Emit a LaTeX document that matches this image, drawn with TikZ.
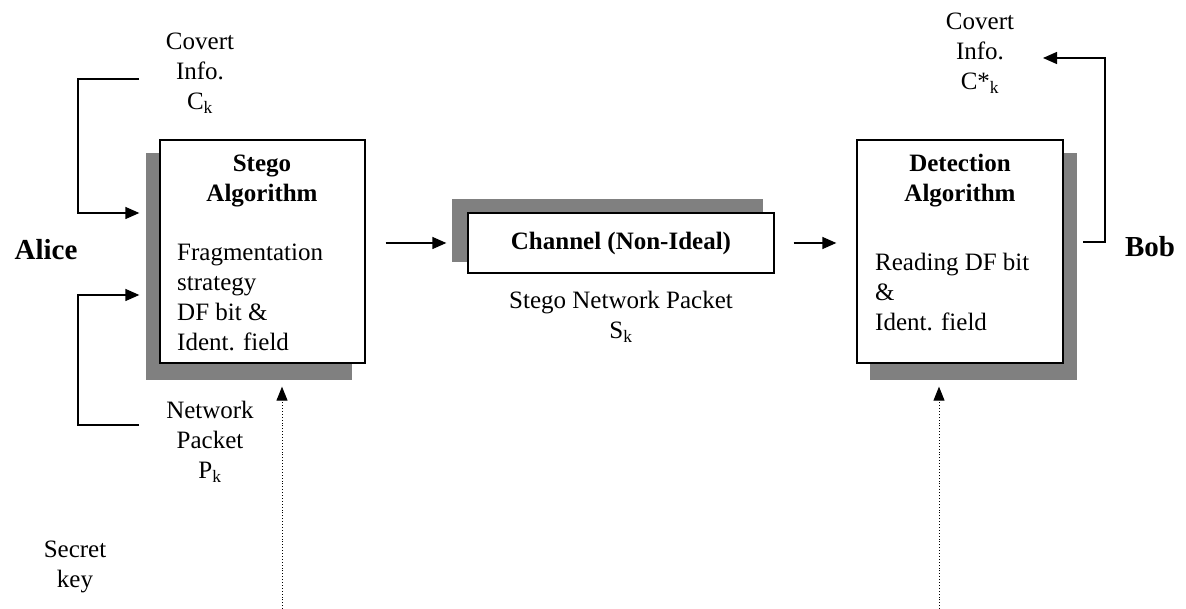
\documentclass[tikz,border=0pt]{standalone}
\usepackage{fontspec}
\setmainfont{Liberation Serif}
\usetikzlibrary{arrows.meta}
\begin{document}
\begin{tikzpicture}[x=1pt,y=-1pt,
  txt/.style={font=\fontsize{25}{30}\selectfont, inner sep=0pt, align=center},
  ltxt/.style={font=\fontsize{25}{30}\selectfont, inner sep=0pt, align=left},
  btxt/.style={font=\fontsize{25}{30}\selectfont\bfseries, inner sep=0pt, align=center},
  persona/.style={font=\fontsize{29}{32}\selectfont\bfseries, inner sep=0pt},
  mainbox/.style={draw=black, line width=1.3pt, fill=white, inner sep=0pt},
  conn/.style={line width=1.3pt, -{Triangle[length=14pt,width=12pt]}},
  keyline/.style={line width=0.9pt, dotted, -{Triangle[length=14pt,width=11pt]}}
]
\useasboundingbox (0,0) rectangle (1186,609);
% shadows
\fill[black!50] (146,153) rectangle (352,380);
\fill[black!50] (452,199) rectangle (763,262);
\fill[black!50] (870,153) rectangle (1077,380);
% boxes
\node[mainbox, minimum width=205pt, minimum height=223pt] (stego) at (262.5,251.5) {};
\node[mainbox, minimum width=306pt, minimum height=60pt] (chan) at (621,243) {};
\node[mainbox, minimum width=206pt, minimum height=223pt] (det) at (960,251.5) {};
% box texts
\node[btxt] (stegot) at (262,181) {Stego\\Algorithm};
\node[ltxt, anchor=west] (stegob) at (177,297) {Fragmentation\\strategy\\DF bit \&\\Ident. field};
\node[btxt] (chant) at (chan.center) {Channel (Non-Ideal)};
\node[btxt] (dett) at (960,181) {Detection\\Algorithm};
\node[ltxt, anchor=west] (detb) at (875,292) {Reading DF bit\\\&\\Ident. field};
% labels
\node[txt] (ck) at (200,73) {Covert\\Info.\\C\textsubscript{k}};
\node[txt] (pk) at (210,442) {Network\\Packet\\P\textsubscript{k}};
\node[txt] (sk) at (621,317) {Stego Network Packet\\S\textsubscript{k}};
\node[txt] (cks) at (980,53) {Covert\\Info.\\C*\textsubscript{k}};
\node[txt] (key) at (75,567) {Secret\\key};
\node[persona] (alice) at (46,250) {Alice};
\node[persona] (bob) at (1150,247) {Bob};
% connector coordinates
\coordinate (a1) at (139,79);
\coordinate (a2) at (139,425);
\coordinate (b1) at (1083,242);
\coordinate (b2) at (1043,58);
\coordinate (k1) at (282,609);
\coordinate (k2) at (939,609);
% connectors
\draw[conn] (a1) -- (78,79) -- (78,213) -- ([xshift=-20pt]stego.west |- 0,213);
\draw[conn] (a2) -- (78,425) -- (78,295) -- ([xshift=-20pt]stego.west |- 0,295);
\draw[conn] ([xshift=20pt]stego.east |- chan.center) -- ([xshift=-21pt]chan.west);
\draw[conn] ([xshift=19pt]chan.east) -- ([xshift=-20pt]det.west |- chan.center);
\draw[conn] (b1) -- (1105,242) -- (1105,58) -- (b2);
\draw[keyline] (k1) -- ([yshift=-23pt]k1 |- stego.south);
\draw[keyline] (k2) -- ([yshift=-23pt]k2 |- det.south);
\end{tikzpicture}
\end{document}
